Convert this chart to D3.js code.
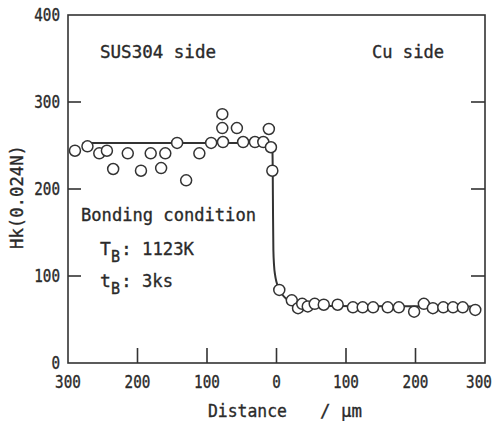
<!DOCTYPE html>
<meta charset="utf-8">
<style>
  body { margin: 0; background: #fff; }
  text { font-family: "DejaVu Sans Mono", monospace; fill: #2a2a2a; stroke: #2a2a2a; stroke-width: 0.35px; }
  .frame { fill: none; stroke: #333; stroke-width: 1.6px; }
  .tick-line { stroke: #333; stroke-width: 1.6px; }
  .fit { fill: none; stroke: #333; stroke-width: 2px; }
  .pts circle { fill: #fff; stroke: #333; stroke-width: 1.5px; }
</style>
<svg width="496" height="421"></svg>
<script src="https://d3js.org/d3.v7.min.js"></script>
<script>
  // SUS304 side (distance shown as negative = left of the interface)
  var susX = [-290, -272, -255, -244, -235, -214, -195, -181, -166, -160, -143, -130,
              -111, -94, -78, -78, -77, -57, -48, -31, -19, -11, -8, -6];
  var susY = [244, 249, 241, 244, 223, 241, 221, 241, 224, 241, 253, 210,
              241, 253, 286, 270, 254, 270, 254, 254, 254, 269, 248, 221];

  // Cu side
  var cuX = [4, 22, 31, 37, 45, 55, 68, 88, 110, 124, 139, 160, 176, 198, 212, 225, 240, 254, 268, 286];
  var cuY = [84, 72, 63, 68, 65, 68, 67, 67, 64, 64, 64, 64, 64, 59, 68, 63, 64, 64, 64, 61];

  // hand-drawn trend line
  var fitX = [-279, -10, -7, -5.8, -5.4, -5, -4.5, -3.5, -2, 0, 3, 8, 15, 25, 40, 60, 283];
  var fitY = [253, 253, 250, 242, 220, 170, 130, 112, 101, 93, 86, 79, 73, 69, 66.5, 65.5, 65];

  var xTicks = [-300, -200, -100, 0, 100, 200, 300];
  var yTicks = [0, 100, 200, 300, 400];

  var svg = d3.select("svg");
  var pL = 68, pR = 485, pT = 15, pB = 363;

  var x = d3.scaleLinear().domain([-300, 300]).range([pL, pR]);
  var y = d3.scaleLinear().domain([0, 400]).range([pB, pT]);

  // inner ticks
  var ticks = svg.append("g");
  ticks.selectAll(".yl").data(yTicks.slice(1, 4)).enter().append("line")
    .attr("class", "tick-line")
    .attr("x1", pL).attr("x2", pL + 13)
    .attr("y1", function(d) { return y(d); }).attr("y2", function(d) { return y(d); });
  ticks.selectAll(".yr").data(yTicks.slice(1, 4)).enter().append("line")
    .attr("class", "tick-line")
    .attr("x1", pR).attr("x2", pR - 14)
    .attr("y1", function(d) { return y(d); }).attr("y2", function(d) { return y(d); });
  ticks.selectAll(".xb").data(xTicks.slice(1, 6)).enter().append("line")
    .attr("class", "tick-line")
    .attr("x1", function(d) { return x(d); }).attr("x2", function(d) { return x(d); })
    .attr("y1", pB).attr("y2", pB - 15);

  svg.append("rect").attr("class", "frame")
    .attr("x", pL).attr("y", pT)
    .attr("width", pR - pL).attr("height", pB - pT);

  // tick labels
  svg.append("g").selectAll("text").data(yTicks).enter().append("text")
    .attr("x", 60)
    .attr("y", function(d) { return y(d); })
    .attr("dy", "0.36em")
    .attr("text-anchor", "end")
    .attr("font-size", 17)
    .attr("textLength", function(d) { return String(d).length * 8.6; })
    .attr("lengthAdjust", "spacingAndGlyphs")
    .text(function(d) { return d; });

  svg.append("g").selectAll("text").data(xTicks).enter().append("text")
    .attr("x", function(d) { return Math.min(Math.max(x(d), 66), 479); })
    .attr("y", 388)
    .attr("text-anchor", "middle")
    .attr("font-size", 17)
    .attr("textLength", function(d) { return String(Math.abs(d)).length * 8.6; })
    .attr("lengthAdjust", "spacingAndGlyphs")
    .text(function(d) { return Math.abs(d); });

  // axis titles
  svg.append("text").attr("x", 208).attr("y", 417).attr("font-size", 18)
    .attr("textLength", 79).attr("lengthAdjust", "spacingAndGlyphs")
    .text("Distance");
  svg.append("text").attr("x", 320).attr("y", 417).attr("font-size", 18)
    .attr("textLength", 42).attr("lengthAdjust", "spacingAndGlyphs")
    .text("/ μm");
  svg.append("text")
    .attr("transform", "translate(23,197) rotate(-90)")
    .attr("text-anchor", "middle").attr("font-size", 18)
    .attr("textLength", 104).attr("lengthAdjust", "spacingAndGlyphs")
    .text("Hk(0.024N)");

  // annotations
  svg.append("text").attr("x", 100).attr("y", 58).attr("font-size", 17)
    .attr("textLength", 116).attr("lengthAdjust", "spacingAndGlyphs")
    .text("SUS304 side");
  svg.append("text").attr("x", 372).attr("y", 58).attr("font-size", 17)
    .attr("textLength", 72).attr("lengthAdjust", "spacingAndGlyphs")
    .text("Cu side");
  svg.append("text").attr("x", 81).attr("y", 221).attr("font-size", 18)
    .attr("textLength", 175).attr("lengthAdjust", "spacingAndGlyphs")
    .text("Bonding condition");

  function cond(yb, sym, val, w) {
    var t = svg.append("text").attr("y", yb).attr("font-size", 18);
    t.append("tspan").attr("x", 100).text(sym);
    t.append("tspan").attr("x", 111).attr("dy", 7).attr("font-size", 15).text("B");
    t.append("tspan").attr("x", 121).attr("dy", -7).text(":");
    t.append("tspan").attr("x", 142).attr("textLength", w)
      .attr("lengthAdjust", "spacingAndGlyphs").text(val);
  }
  cond(255, "T", "1123K", 52);
  cond(287, "t", "3ks", 31);

  // trend line
  var line = d3.line()
    .x(function(d) { return x(d[0]); })
    .y(function(d) { return y(d[1]); })
    .curve(d3.curveMonotoneX);
  svg.append("path").attr("class", "fit")
    .attr("d", line(d3.zip(fitX, fitY)));

  // data points
  var pts = d3.zip(susX, susY).concat(d3.zip(cuX, cuY));
  svg.append("g").attr("class", "pts").selectAll("circle")
    .data(pts).enter().append("circle")
    .attr("cx", function(d) { return x(d[0]); })
    .attr("cy", function(d) { return y(d[1]); })
    .attr("r", 5.5);
</script>
